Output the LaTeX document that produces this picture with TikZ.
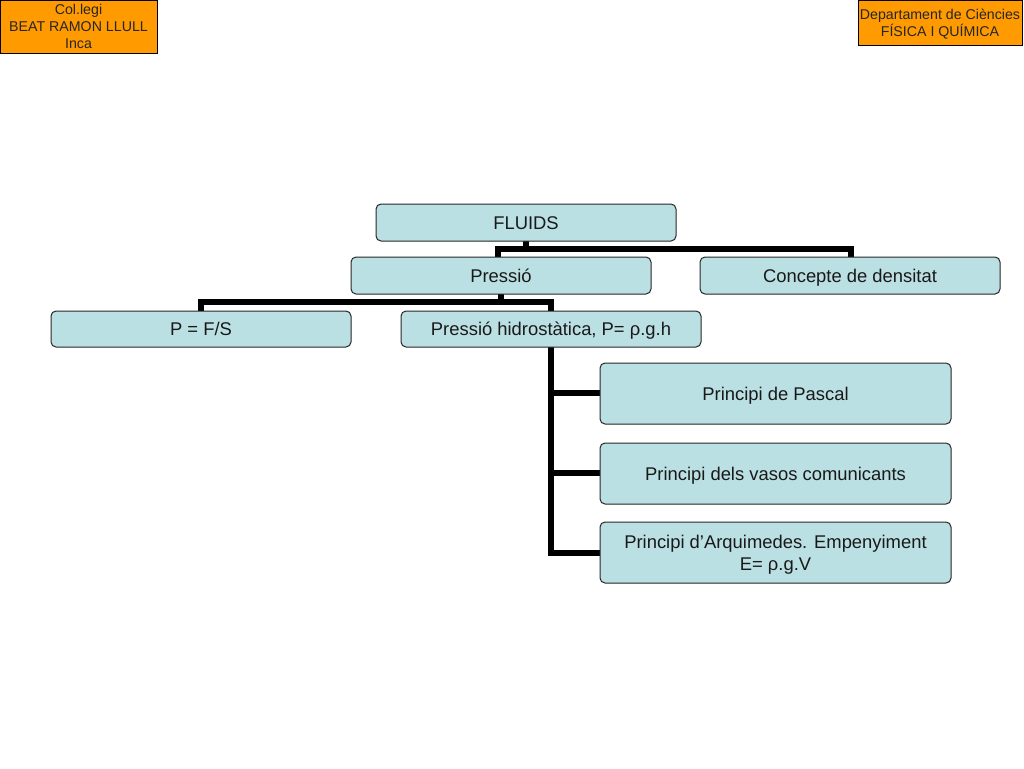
\documentclass[tikz,border=0pt]{standalone}
\usepackage{fontspec}
\setmainfont{Liberation Sans}
\begin{document}
\begin{tikzpicture}[x=1pt,y=-1pt,
  box/.style={draw=black!85,line width=1pt,fill=boxblue,rounded corners=5pt,align=center,font=\fontsize{18.4}{22}\selectfont,inner sep=0pt,text=black!90},
  one/.style={text height=13.2pt,text depth=-0.5pt},
  two/.style={text height=13.2pt,text depth=-7pt},
  hdr/.style={draw=black,line width=0.8pt,fill=hdrorange,align=center,font=\fontsize{14.2}{16.8}\selectfont,inner sep=0pt,text=black!85},
  conn/.style={line width=5.5pt,black}]
\definecolor{boxblue}{HTML}{BBE0E3}
\definecolor{hdrorange}{HTML}{FF9A00}
\useasboundingbox (0,0) rectangle (1024,768);
\fill[white] (0,0) rectangle (1024,768);
% headers
\node[hdr,minimum width=157pt,minimum height=53pt] (h1) at (78.5,26.5) {Col.legi\\BEAT RAMON LLULL\\Inca};
\node[hdr,minimum width=164pt,minimum height=45pt,text depth=-2pt] (h2) at (940,22.5) {Departament de Ciències\\FÍSICA I QUÍMICA};
% connector joints
\coordinate (j1) at (526,249);
\coordinate (j2) at (501,302);
% connectors (drawn under boxes)
\draw[conn] (526,241) -- (j1);
\draw[conn] (498,259) |- (851,249) -- (851,259);
\draw[conn] (501,294) -- (j2);
\draw[conn] (201,313) |- (551,302) -- (551,313);
\draw[conn] (551,347) -- (551,556);
\draw[conn] (548,393) -- (602,393);
\draw[conn] (548,473) -- (602,473);
\draw[conn] (548,553) -- (602,553);
% boxes
\node[box,one,minimum width=300pt,minimum height=37pt] (fl) at (526,222.5) {FLUIDS};
\node[box,one,minimum width=300pt,minimum height=37pt] (pr) at (501,275.5) {Pressió};
\node[box,one,minimum width=300pt,minimum height=37pt] (cd) at (850,275.5) {Concepte de densitat};
\node[box,one,minimum width=300pt,minimum height=36pt] (pf) at (201,329) {P = F/S};
\node[box,one,minimum width=300pt,minimum height=36pt] (ph) at (551,329) {Pressió hidrostàtica, P= ρ.g.h};
\node[box,two,minimum width=351pt,minimum height=61pt] (pp) at (775.5,393.5) {Principi de Pascal};
\node[box,two,minimum width=351pt,minimum height=61pt] (pv) at (775.5,473.5) {Principi dels vasos comunicants};
\node[box,minimum width=351pt,minimum height=61pt,text depth=-8pt] (pa) at (775.5,552.5) {Principi d’Arquimedes. Empenyiment\\E= ρ.g.V};
\end{tikzpicture}
\end{document}
